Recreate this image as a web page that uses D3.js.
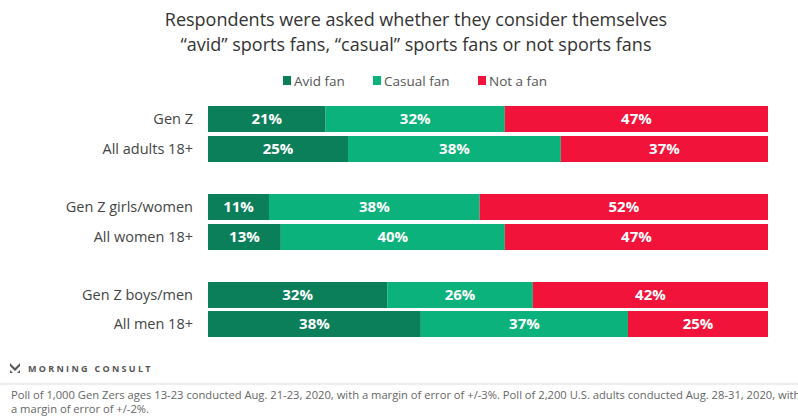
<!DOCTYPE html>
<html>
<head>
<meta charset="utf-8">
<script src="https://d3js.org/d3.v7.min.js"></script>
<style>
  body { margin: 0; background: #fff; }
  text { font-family: "Open Sans", "Lato", sans-serif; }
</style>
</head>
<body>
<div id="chart"></div>
<script>
// chart data
var groups = ["Gen Z", "All adults 18+", "Gen Z girls/women", "All women 18+", "Gen Z boys/men", "All men 18+"];
var avid = [21, 25, 11, 13, 32, 38];
var casual = [32, 38, 38, 40, 26, 37];
var notFan = [47, 37, 52, 47, 42, 25];
var seriesNames = ["Avid fan", "Casual fan", "Not a fan"];
var colors = ["#0a7f5a", "#0bb27b", "#f2133b"];

var width = 798, height = 416;
var svg = d3.select("#chart").append("svg")
  .attr("width", width)
  .attr("height", height);

// title
svg.append("text")
  .attr("x", 416).attr("y", 26)
  .attr("text-anchor", "middle")
  .attr("font-size", "18px")
  .attr("fill", "#333")
  .text("Respondents were asked whether they consider themselves");
svg.append("text")
  .attr("x", 416).attr("y", 51)
  .attr("text-anchor", "middle")
  .attr("font-size", "18px")
  .attr("fill", "#333")
  .text("\u201cavid\u201d sports fans, \u201ccasual\u201d sports fans or not sports fans");

// legend
var legendX = [283, 373, 478];
var legend = svg.append("g").selectAll("g")
  .data(seriesNames)
  .enter().append("g")
  .attr("transform", function(d, i) { return "translate(" + legendX[i] + ",76)"; });
legend.append("rect")
  .attr("width", 8).attr("height", 9)
  .attr("fill", function(d, i) { return colors[i]; });
legend.append("text")
  .attr("x", 11).attr("y", 9.5)
  .attr("font-size", "13.5px")
  .attr("fill", "#555")
  .text(function(d) { return d; });

// build stacked rows
var rows = groups.map(function(g, i) {
  return { name: g, values: [avid[i], casual[i], notFan[i]] };
});

// rows positioned in pairs with a gap between groups
var rowTop = [106, 136, 194, 224, 282, 311];
var barH = 26;

var rowG = svg.append("g").selectAll("g")
  .data(rows)
  .enter().append("g")
  .attr("transform", function(d, i) { return "translate(0," + rowTop[i] + ")"; });

rowG.append("text")
  .attr("x", 193).attr("y", barH / 2)
  .attr("dy", "0.36em")
  .attr("text-anchor", "end")
  .attr("font-size", "14.5px")
  .attr("fill", "#444")
  .text(function(d) { return d.name; });

var segs = rowG.selectAll(".seg")
  .data(function(d) {
    // each bar fills the full width even when rounding sums to 101
    var total = d3.sum(d.values);
    var x = d3.scaleLinear().domain([0, total]).range([208, 768]);
    var acc = 0;
    return d.values.map(function(v, j) {
      var s = { x0: x(acc), x1: x(acc + v), val: v, idx: j };
      acc += v;
      return s;
    });
  })
  .enter().append("g").attr("class", "seg");

segs.append("rect")
  .attr("x", function(d) { return d.x0; })
  .attr("width", function(d) { return d.x1 - d.x0; })
  .attr("height", barH)
  .attr("fill", function(d) { return colors[d.idx]; });

segs.append("text")
  .attr("x", function(d) { return (d.x0 + d.x1) / 2; })
  .attr("y", barH / 2)
  .attr("dy", "0.36em")
  .attr("text-anchor", "middle")
  .attr("font-size", "15px")
  .attr("font-weight", "bold")
  .attr("fill", "#fff")
  .text(function(d) { return d.val + "%"; });

// footer
var logo = svg.append("g").attr("transform", "translate(10,363)");
logo.append("path")
  .attr("d", "M0,0 L5,5 L10,0 L10,3 L5,8 L0,3 Z M0,7 L3,10 L0,10 Z M10,7 L7,10 L10,10 Z")
  .attr("fill", "#555");
svg.append("text")
  .attr("x", 28).attr("y", 372)
  .attr("font-size", "9px")
  .attr("font-weight", "bold")
  .attr("letter-spacing", "2.3px")
  .attr("fill", "#555")
  .text("MORNING CONSULT");

svg.append("line")
  .attr("x1", 0).attr("x2", width)
  .attr("y1", 384).attr("y2", 384)
  .attr("stroke", "#ddd");

svg.append("text")
  .attr("x", 11).attr("y", 399)
  .attr("font-size", "11.2px")
  .attr("fill", "#666")
  .text("Poll of 1,000 Gen Zers ages 13-23 conducted Aug. 21-23, 2020, with a margin of error of +/-3%. Poll of 2,200 U.S. adults conducted Aug. 28-31, 2020, with");
svg.append("text")
  .attr("x", 11).attr("y", 413)
  .attr("font-size", "11.2px")
  .attr("fill", "#666")
  .text("a margin of error of +/-2%.");
</script>
</body>
</html>
